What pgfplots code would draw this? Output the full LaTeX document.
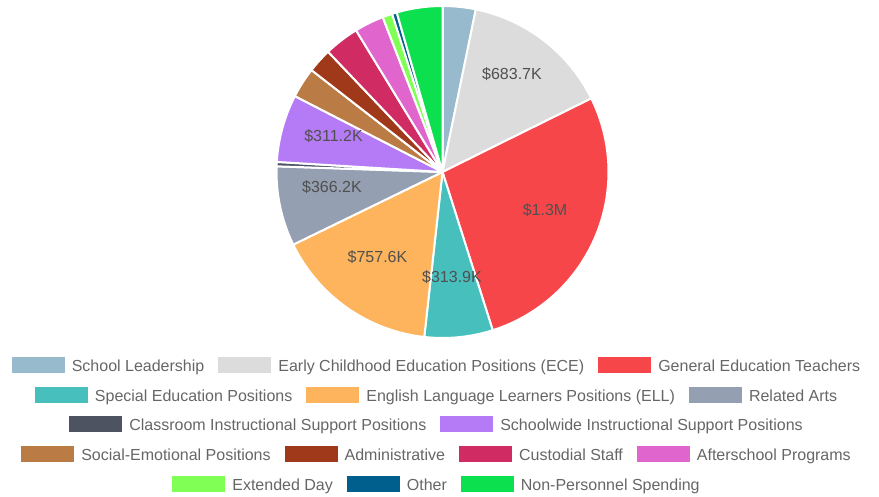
\documentclass[border=0pt]{standalone}
\usepackage{pgfplots}
\usepackage{pgfplotstable}
\pgfplotsset{compat=1.18}
\usepackage{fontspec}
\setmainfont{Liberation Sans}

\definecolor{c0}{HTML}{97BBCD}
\definecolor{c1}{HTML}{DCDCDC}
\definecolor{c2}{HTML}{F7464A}
\definecolor{c3}{HTML}{46BFBD}
\definecolor{c4}{HTML}{FDB45C}
\definecolor{c5}{HTML}{949FB1}
\definecolor{c6}{HTML}{4D5360}
\definecolor{c7}{HTML}{B57BF6}
\definecolor{c8}{HTML}{BA7B45}
\definecolor{c9}{HTML}{A0391A}
\definecolor{c10}{HTML}{D02C63}
\definecolor{c11}{HTML}{E066CE}
\definecolor{c12}{HTML}{80FF55}
\definecolor{c13}{HTML}{005F8C}
\definecolor{c14}{HTML}{0DE04E}
\definecolor{legendtext}{HTML}{666666}
\definecolor{labeltext}{HTML}{505050}

% values in thousands of dollars
\pgfplotstableread[col sep=comma]{
idx,value
0,152
1,683.7
2,1295
3,313.9
4,757.6
5,366.2
6,20
7,311.2
8,140
9,112
10,160
11,135
12,45
13,22
14,210
}\piedata

\newcommand{\lgitem}[2]{\raisebox{-1.5bp}{\textcolor{#1}{\rule{53bp}{16bp}}}\hspace{7bp}#2}
\newcommand{\lgsep}{\hspace{14bp}}

\begin{document}
\begin{tikzpicture}
\useasboundingbox (0,0) rectangle (879bp,497bp);
\xdef\tot{0}
\pgfplotstableforeachcolumnelement{value}\of\piedata\as\v{%
  \pgfmathparse{\tot+\v}\xdef\tot{\pgfmathresult}}
\xdef\cum{0}
\begin{axis}[at={(0,0)}, anchor=south west, width=879bp, height=497bp,
  scale only axis, xmin=0, xmax=879, ymin=0, ymax=497, hide axis, clip=false]
\pgfplotsinvokeforeach{0,...,14}{%
  \pgfplotstablegetelem{#1}{value}\of\piedata
  \pgfmathsetmacro\sa{90-(\cum/\tot)*360}%
  \pgfmathparse{\cum+\pgfplotsretval}\xdef\cum{\pgfmathresult}%
  \pgfmathsetmacro\ea{90-(\cum/\tot)*360}%
  \edef\temp{\noexpand\fill[fill=c#1, draw=white, line width=2bp, line join=round]
    (axis cs:442.5,325) -- ++(\sa:166bp) arc[start angle=\sa, end angle=\ea, radius=166bp] -- cycle;}%
  \temp
}
\end{axis}
\begin{scope}[every node/.style={text=labeltext, inner sep=0, font=\fontsize{16bp}{19bp}\selectfont}]
\node at (512bp,422.5bp) {\$683.7K};
\node at (545bp,287bp) {\$1.3M};
\node at (452bp,220.3bp) {\$313.9K};
\node at (377.5bp,240bp) {\$757.6K};
\node at (332bp,310bp) {\$366.2K};
\node at (333.5bp,361bp) {\$311.2K};
\end{scope}
\begin{scope}[every node/.style={text=legendtext, inner sep=0, anchor=base, font=\fontsize{16bp}{19bp}\selectfont}]
\node at (436bp,125bp) {\lgitem{c0}{School Leadership}\lgsep\lgitem{c1}{Early Childhood Education Positions (ECE)}\lgsep\lgitem{c2}{General Education Teachers}};
\node at (436bp,95.5bp) {\lgitem{c3}{Special Education Positions}\lgsep\lgitem{c4}{English Language Learners Positions (ELL)}\lgsep\lgitem{c5}{Related Arts}};
\node at (436bp,66bp) {\lgitem{c6}{Classroom Instructional Support Positions}\lgsep\lgitem{c7}{Schoolwide Instructional Support Positions}};
\node at (436bp,36.5bp) {\lgitem{c8}{Social-Emotional Positions}\lgsep\lgitem{c9}{Administrative}\lgsep\lgitem{c10}{Custodial Staff}\lgsep\lgitem{c11}{Afterschool Programs}};
\node at (436bp,7bp) {\lgitem{c12}{Extended Day}\lgsep\lgitem{c13}{Other}\lgsep\lgitem{c14}{Non-Personnel Spending}};
\end{scope}
\end{tikzpicture}
\end{document}
